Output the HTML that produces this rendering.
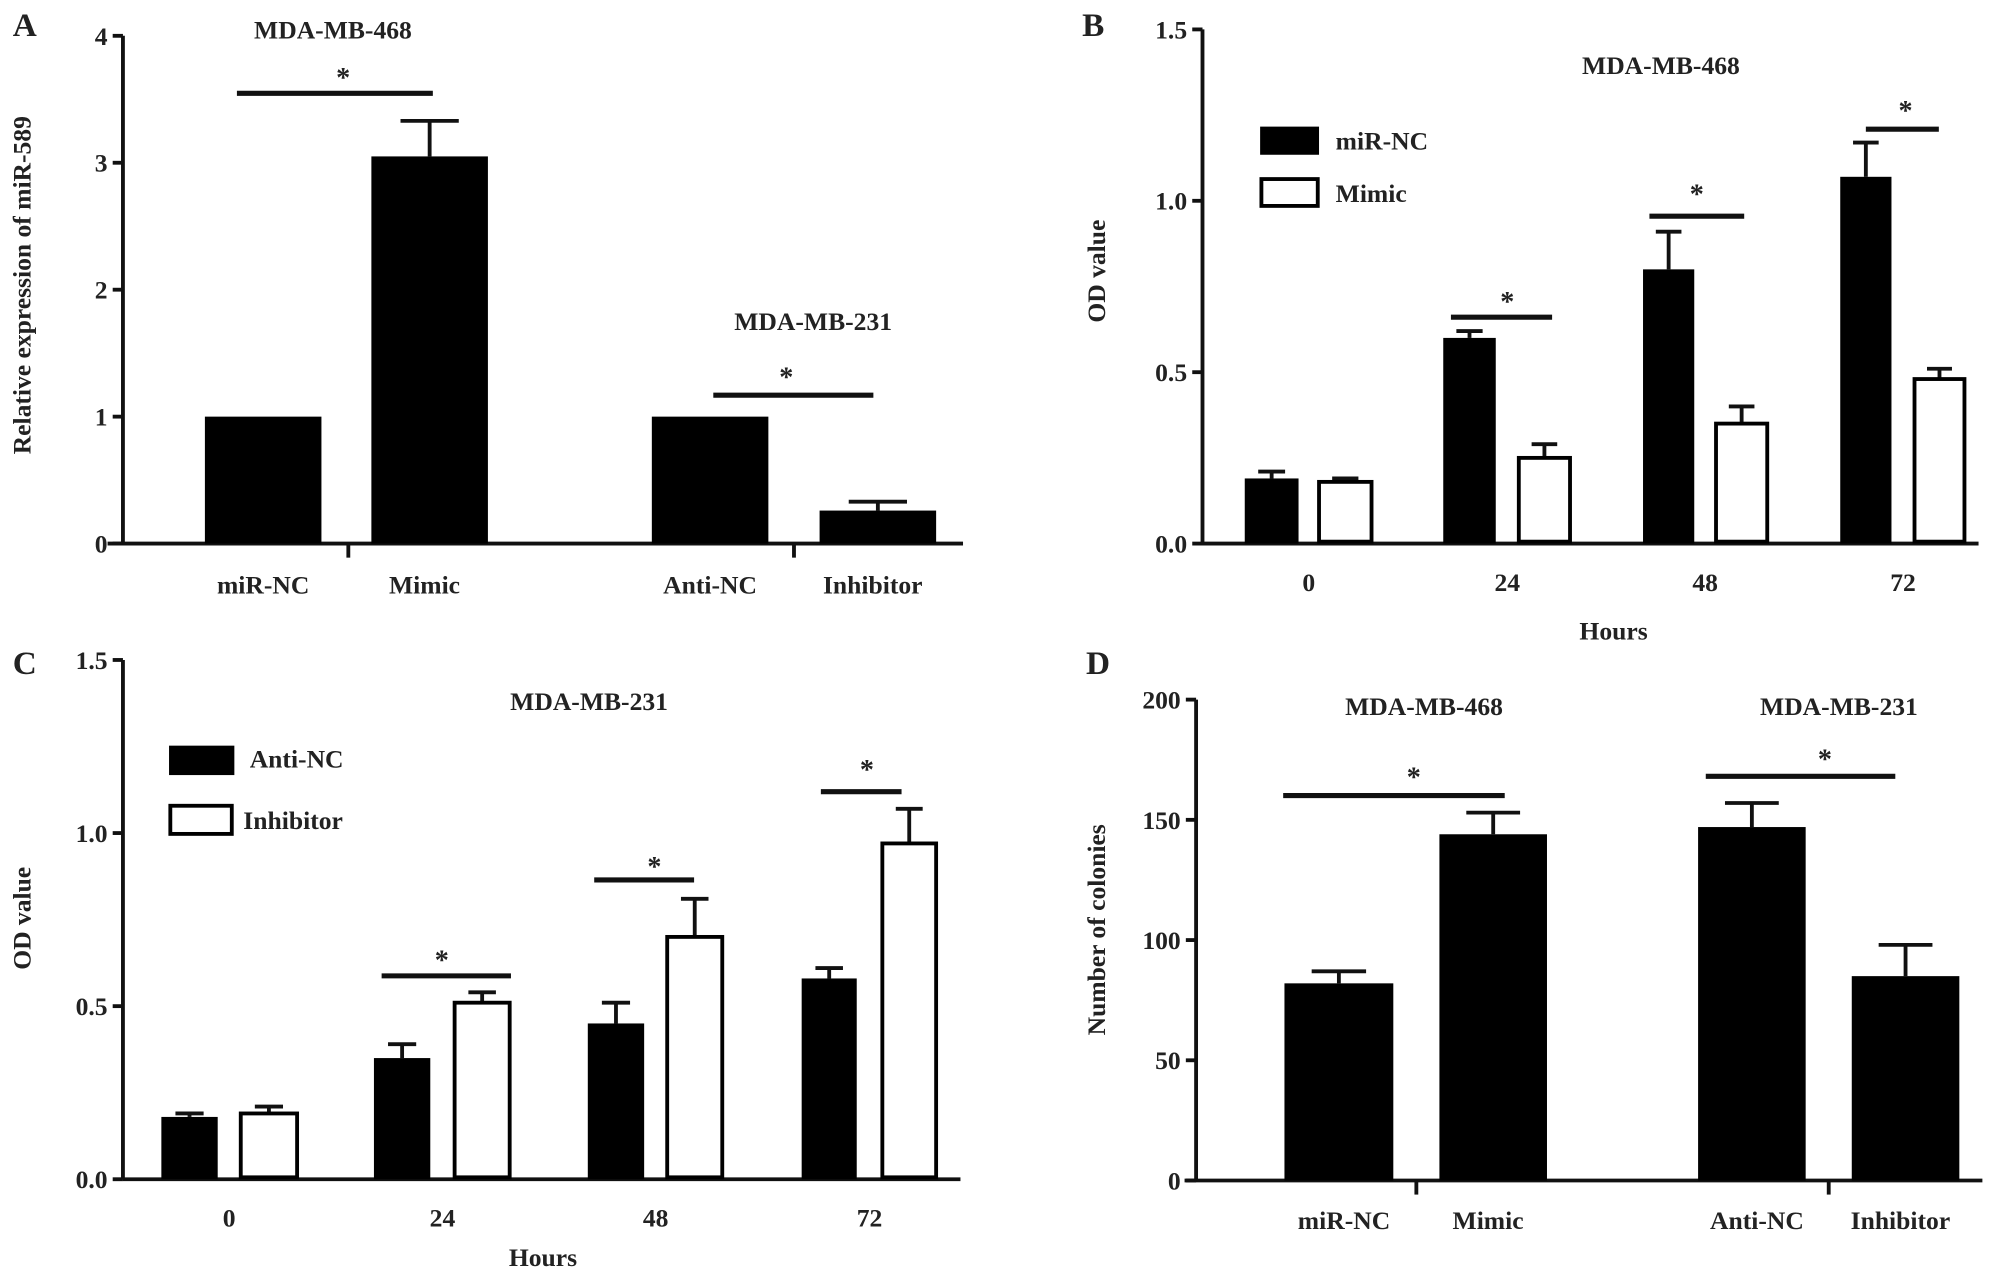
<!DOCTYPE html>
<html><head><meta charset="utf-8"><style>
html,body{margin:0;padding:0;background:#fff}
svg{display:block}
text{font-family:"Liberation Serif",serif;font-weight:bold;fill:#222}
</style></head><body>
<svg id="fig" width="2008" height="1279" viewBox="0 0 1568 1000" preserveAspectRatio="none" xmlns="http://www.w3.org/2000/svg"></svg>
<script>
// Panel A data
const aCats=["miR-NC","Mimic","Anti-NC","Inhibitor"];
const aVals=[1,3.05,1,0.26];
const aErr=[1,3.33,1,0.33];
const aTicks=[0,1,2,3,4];
// Panel B data
const bHours=["0","24","48","72"];
const bNC=[0.19,0.60,0.80,1.07];
const bNCErr=[0.21,0.62,0.91,1.17];
const bMimic=[0.18,0.25,0.35,0.48];
const bMimicErr=[0.19,0.29,0.40,0.51];
const odTicks=["0.0","0.5","1.0","1.5"];
// Panel C data
const cHours=["0","24","48","72"];
const cAnti=[0.18,0.35,0.45,0.58];
const cAntiErr=[0.19,0.39,0.51,0.61];
const cInh=[0.19,0.51,0.70,0.97];
const cInhErr=[0.21,0.54,0.81,1.07];
// Panel D data
const dCats=["miR-NC","Mimic","Anti-NC","Inhibitor"];
const dVals=[82,144,147,85];
const dErr=[87,153,157,98];
const dTicks=[0,50,100,150,200];

const svg=document.getElementById('fig');
const NS="http://www.w3.org/2000/svg";
function el(tag,attrs,txt){const e=document.createElementNS(NS,tag);for(const k in attrs)e.setAttribute(k,attrs[k]);if(txt!==undefined)e.textContent=txt;svg.appendChild(e);return e;}
function line(x1,y1,x2,y2,w,name){const e=el('line',{x1,y1,x2,y2,stroke:'#111','stroke-width':w});

return e;}
function txt(x,y,s,size,name,anchor){const e=el('text',{x,y,'font-size':size,'text-anchor':anchor||'middle'},s);

return e;}
function bar(x0,x1,yv,y0,fill,name){const e=el('rect',{x:x0,y:Math.min(yv,y0),width:x1-x0,height:Math.abs(y0-yv),fill:fill,stroke:'#000','stroke-width':fill==='#fff'?3:0});

return e;}
function errbar(cx,yTop,yErr,w,name){line(cx,yTop,cx,yErr,3,name);line(cx-w/2,yErr,cx+w/2,yErr,3,name+'-cap');}
function yAxis(ax,top,bot,xEnd,xStart,ticks,maxV,lab,p){
  line(ax,top,ax,bot,3,p+'-y-axis');line(xStart,bot,xEnd,bot,3,p+'-x-axis');
  ticks.forEach(t=>{const v=parseFloat(t);const y=bot-(v/maxV)*(bot-top);line(ax-8,y,ax,y,3,p+'-y-tick');txt(ax-12,y+7,t,20,p+'-y-tick-label','end');});
}
function rotTitle(x,y,s,name){const e=el('text',{x:0,y:0,'font-size':20,'text-anchor':'middle',transform:`translate(${x},${y}) rotate(-90)`},s);

}

// ---------- Panel A ----------
{const top=28,bot=425,maxV=4,ys=v=>bot-v/maxV*(bot-top);
yAxis(96,top,bot,752,84,aTicks.map(String),maxV,'','panel-a');
const xs=[[160,251],[290,381],[509,600],[640,731]];
aCats.forEach((c,i)=>{const [x0,x1]=xs[i];const cx=(x0+x1)/2;
 if(aErr[i]>aVals[i])errbar(cx,ys(aVals[i]),ys(aErr[i]),(x1-x0)/2,'error-bar-a-'+c.toLowerCase());
 bar(x0,x1,ys(aVals[i]),bot,'#000','bar-a-'+c.toLowerCase());
 txt(cx+(i%2?-4:0),464,c,20,'x-label-a-'+c.toLowerCase());});
line(272,bot,272,436,3,'panel-a-group-tick');line(620,bot,620,436,3,'panel-a-group-tick');
txt(10,28,'A',26,'panel-a-label','start');
txt(260,30,'MDA-MB-468',20,'panel-a-title-468');
line(185,73,338,73,4,'sig-bar-a-468');txt(268,68,'*',22,'sig-star-a-468');
txt(635,258,'MDA-MB-231',20,'panel-a-title-231');
line(557,309,682,309,4,'sig-bar-a-231');txt(614,302,'*',22,'sig-star-a-231');
rotTitle(24,223,'Relative expression of miR-589','y-axis-title-a');}

// ---------- Panel B ----------
{const top=23,bot=425,maxV=1.5,ys=v=>bot-v/maxV*(bot-top);
yAxis(939,top,bot,1545,939,odTicks,maxV,'','panel-b');
const bx=[[972,1014,1030,1071],[1127,1168,1186,1226],[1283,1323,1340,1380],[1437,1477,1495,1534]];
bHours.forEach((h,i)=>{const g=bx[i];
 errbar((g[0]+g[1])/2,ys(bNC[i]),ys(bNCErr[i]),(g[1]-g[0])/2,'error-bar-b-nc-'+h);
 bar(g[0],g[1],ys(bNC[i]),bot,'#000','bar-b-mir-nc-'+h);
 errbar((g[2]+g[3])/2,ys(bMimic[i]),ys(bMimicErr[i]),(g[3]-g[2])/2,'error-bar-b-mimic-'+h);
 bar(g[2],g[3],ys(bMimic[i]),bot-1.5,'#fff','bar-b-mimic-'+h);
 txt((g[1]+g[2])/2,462,h,20,'x-label-b-'+h);});
txt(1260,500,'Hours',20,'x-axis-title-b');
txt(845,28,'B',26,'panel-b-label','start');
txt(1297,58,'MDA-MB-468',20,'panel-b-title');
el('rect',{x:984,y:99,width:46,height:22,fill:'#000'});
txt(1043,117,'miR-NC',20,'legend-label-mir-nc','start');
el('rect',{x:985,y:140,width:44,height:21,fill:'#fff',stroke:'#000','stroke-width':3});
txt(1043,158,'Mimic',20,'legend-label-mimic','start');
line(1133,248,1212,248,4,'sig-bar-b-24');txt(1177,243,'*',22,'sig-star-b-24');
line(1288,169,1362,169,4,'sig-bar-b-48');txt(1325,159,'*',22,'sig-star-b-48');
line(1457,101,1514,101,4,'sig-bar-b-72');txt(1488,94,'*',22,'sig-star-b-72');
rotTitle(863,212,'OD value','y-axis-title-b');}

// ---------- Panel C ----------
{const top=516,bot=922,maxV=1.5,ys=v=>bot-v/maxV*(bot-top);
yAxis(96,top,bot,750,96,odTicks,maxV,'','panel-c');
const cx=[[126,170,188,232],[292,336,355,398],[459,503,521,564],[626,669,689,731]];
cHours.forEach((h,i)=>{const g=cx[i];
 errbar((g[0]+g[1])/2,ys(cAnti[i]),ys(cAntiErr[i]),(g[1]-g[0])/2,'error-bar-c-anti-'+h);
 bar(g[0],g[1],ys(cAnti[i]),bot,'#000','bar-c-anti-nc-'+h);
 errbar((g[2]+g[3])/2,ys(cInh[i]),ys(cInhErr[i]),(g[3]-g[2])/2,'error-bar-c-inh-'+h);
 bar(g[2],g[3],ys(cInh[i]),bot-1.5,'#fff','bar-c-inhibitor-'+h);
 txt((g[1]+g[2])/2,959,h,20,'x-label-c-'+h);});
txt(424,990,'Hours',20,'x-axis-title-c');
txt(10,527,'C',26,'panel-c-label','start');
txt(460,555,'MDA-MB-231',20,'panel-c-title');
el('rect',{x:132,y:583,width:51,height:23,fill:'#000'});
txt(195,600,'Anti-NC',20,'legend-label-anti-nc','start');
el('rect',{x:133,y:630,width:48,height:22,fill:'#fff',stroke:'#000','stroke-width':3});
txt(190,648,'Inhibitor',20,'legend-label-inhibitor','start');
line(298,763,399,763,4,'sig-bar-c-24');txt(345,758,'*',22,'sig-star-c-24');
line(464,688,542,688,4,'sig-bar-c-48');txt(511,685,'*',22,'sig-star-c-48');
line(641,619,704,619,4,'sig-bar-c-72');txt(677,609,'*',22,'sig-star-c-72');
rotTitle(24,718,'OD value','y-axis-title-c');}

// ---------- Panel D ----------
{const top=547,bot=923,maxV=200,ys=v=>bot-v/maxV*(bot-top);
yAxis(934,top,bot,1548,925,dTicks.map(String),maxV,'','panel-d');
const xs=[[1003,1088],[1124,1208],[1326,1410],[1446,1530]];
dCats.forEach((c,i)=>{const [x0,x1]=xs[i];const cx=(x0+x1)/2;
 errbar(cx,ys(dVals[i]),ys(dErr[i]),(x1-x0)/2,'error-bar-d-'+c.toLowerCase());
 bar(x0,x1,ys(dVals[i]),bot,'#000','bar-d-'+c.toLowerCase());
 txt(cx+(i%2?-4:4),961,c,20,'x-label-d-'+c.toLowerCase());});
line(1106,bot,1106,934,3,'panel-d-group-tick');line(1428,bot,1428,934,3,'panel-d-group-tick');
txt(848,527,'D',26,'panel-d-label','start');
txt(1112,559,'MDA-MB-468',20,'panel-d-title-468');
txt(1436,559,'MDA-MB-231',20,'panel-d-title-231');
line(1002,622,1175,622,4,'sig-bar-d-468');txt(1104,615,'*',22,'sig-star-d-468');
line(1332,607,1480,607,4,'sig-bar-d-231');txt(1425,601,'*',22,'sig-star-d-231');
rotTitle(863,727,'Number of colonies','y-axis-title-d');}
</script>
</body></html>
